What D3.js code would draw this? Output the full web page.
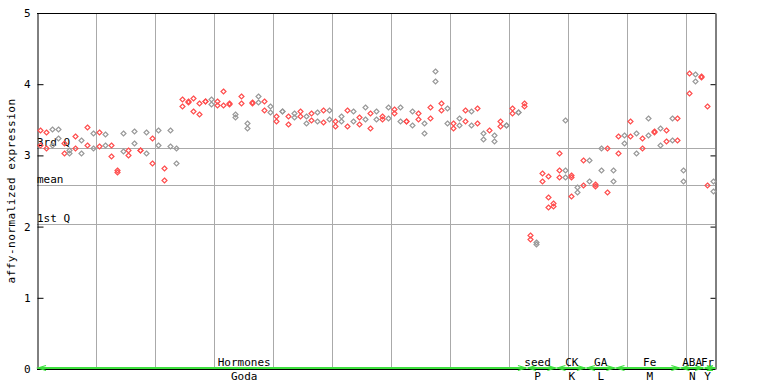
<!DOCTYPE html>
<html>
<head>
<meta charset="utf-8">
<script src="https://cdn.jsdelivr.net/npm/d3@7"></script>
<style>
  body { margin: 0; background: #fff; }
  text { font-family: "DejaVu Sans Mono", monospace; font-size: 11px; fill: #000; }
</style>
</head>
<body>
<div id="chart"></div>
<script>
// one entry per sample column, replicate values
var sampleValues = [
  [3.36, 3.14], [3.33, 3.11], [3.37, 3.14], [3.37, 3.24], [3.17, 3.04],
  [3.08, 3.03], [3.27, 3.11], [3.21, 3.04], [3.40, 3.14], [3.31, 3.11],
  [3.33, 3.13], [3.30, 3.15], [3.14, 2.99], [2.80, 2.77], [3.31, 3.06],
  [3.08, 3.01], [3.34, 3.17], [3.08, 3.07], [3.33, 3.04], [3.24, 2.89],
  [3.36, 3.15], [2.83, 2.66], [3.35, 3.13], [3.10, 2.89], [3.79, 3.70],
  [3.76, 3.75], [3.81, 3.62], [3.74, 3.58], [3.77, 3.76], [3.79, 3.72],
  [3.76, 3.71], [3.90, 3.71], [3.73, 3.72], [3.58, 3.54], [3.83, 3.73],
  [3.45, 3.39], [3.75, 3.74], [3.83, 3.75], [3.76, 3.64], [3.69, 3.61],
  [3.56, 3.48], [3.63, 3.62], [3.56, 3.44], [3.60, 3.54], [3.63, 3.56],
  [3.56, 3.45], [3.60, 3.50], [3.61, 3.49], [3.64, 3.47], [3.64, 3.51],
  [3.49, 3.41], [3.56, 3.48], [3.64, 3.41], [3.62, 3.49], [3.54, 3.44],
  [3.68, 3.51], [3.60, 3.38], [3.62, 3.51], [3.56, 3.51], [3.68, 3.52],
  [3.65, 3.59], [3.68, 3.49], [3.48, 3.48], [3.62, 3.42], [3.59, 3.51],
  [3.45, 3.32], [3.68, 3.53], [4.19, 4.05], [3.74, 3.64], [3.66, 3.46],
  [3.46, 3.38], [3.53, 3.42], [3.64, 3.49], [3.62, 3.42], [3.67, 3.46],
  [3.31, 3.23], [3.35], [3.29, 3.20], [3.48, 3.41], [3.43, 3.43],
  [3.66, 3.60], [3.61, 3.61], [3.74, 3.70], [1.88, 1.82], [1.79, 1.76],
  [2.75, 2.64], [2.71, 2.42, 2.28], [2.33, 2.29], [3.03, 2.80, 2.69], [3.50, 2.79, 2.69],
  [2.73, 2.70, 2.43], [2.55, 2.49], [2.93, 2.58], [2.93, 2.64], [2.60, 2.57],
  [3.10, 2.79], [3.11, 2.48], [2.79, 2.64], [3.27, 3.04], [3.28, 3.17],
  [3.49, 3.27], [3.32, 3.03], [3.25, 3.10], [3.52, 3.29], [3.34, 3.33],
  [3.38, 3.15], [3.35, 3.20], [3.53, 3.21], [3.53, 3.22], [2.79, 2.64],
  [4.16, 3.88], [4.15, 4.04], [4.11, 4.10], [3.69, 2.59], [2.64, 2.50]
];
// r = red, g = grey, per column (10 per chunk)
var sampleColours = "rrggrgrgrg" + "rgrrgrgrgr" + "grggrrrrrg" + "rrrgrgrgrg" +
                    "rgrgrgrgrg" + "rgrgrgrgrg" + "rgrgrgrgrg" + "rgrgrgrgrg" +
                    "rgrrgrrrrg" + "rgrgrgrgrg" + "rgrgrgrgrg" + "rgrrg";

var quartiles = [
  {label: "3rd Q", value: 3.10},
  {label: "mean", value: 2.58},
  {label: "1st Q", value: 2.03}
];

// experiment groups along the bottom: first column, last column
var groupNames = ["Hormones", "seed", "CK", "GA", "Fe", "ABA", "Fr"];
var groupCodes = ["Goda", "P", "K", "L", "M", "N", "Y"];
var groupStart = [0, 83, 88, 93, 98, 109, 113];
var groupEnd   = [82, 87, 92, 97, 108, 112, 114];
var groupLabelCol = [35.1, 84.8, 90.6, 95.5, 103.8, 111, 113.6];

var yTicks = [0, 1, 2, 3, 4, 5];

var W = 768, H = 384;
var pLeft = 37, pRight = 715.8, pTop = 13, pBottom = 369;
var nCols = sampleValues.length;

var svg = d3.select("#chart").append("svg")
    .attr("width", W)
    .attr("height", H);

var x = d3.scaleLinear().domain([0, nCols]).range([pLeft, pRight]);
var y = d3.scaleLinear().domain([0, 5]).range([pBottom, pTop]);

// vertical grid every 10 samples
var gridCols = d3.range(10, nCols, 10);
svg.append("g").selectAll("line")
    .data(gridCols)
    .enter().append("line")
    .attr("x1", d => Math.round(x(d)) + 0.5)
    .attr("x2", d => Math.round(x(d)) + 0.5)
    .attr("y1", pTop)
    .attr("y2", pBottom)
    .attr("stroke", "#aaa");

// quartile lines
var q = svg.append("g").selectAll("g")
    .data(quartiles)
    .enter().append("g");
q.append("line")
    .attr("x1", pLeft)
    .attr("x2", 715)
    .attr("y1", d => Math.round(y(d.value)) + 0.5)
    .attr("y2", d => Math.round(y(d.value)) + 0.5)
    .attr("stroke", "#aaa");
q.append("text")
    .attr("x", pLeft)
    .attr("y", d => y(d.value) - 2)
    .text(d => d.label);

// frame
svg.append("line").attr("x1", pLeft).attr("x2", 715).attr("y1", pTop + 0.5).attr("y2", pTop + 0.5).attr("stroke", "#000");
svg.append("line").attr("x1", pLeft).attr("x2", 715).attr("y1", pBottom + 0.5).attr("y2", pBottom + 0.5).attr("stroke", "#000");

var yAxis = d3.axisLeft(y)
    .tickValues(yTicks)
    .tickFormat(d3.format("d"))
    .tickSizeInner(-6)
    .tickSizeOuter(0)
    .tickPadding(7);
var ga = svg.append("g")
    .attr("transform", "translate(" + (pLeft + 0.5) + ",0)")
    .call(yAxis);
ga.selectAll("text").style("font-family", "DejaVu Sans Mono").style("font-size", "11px");
ga.selectAll("line, path").attr("stroke", "#000");

var yAxisR = d3.axisRight(y)
    .tickValues(yTicks)
    .tickFormat("")
    .tickSizeInner(-5)
    .tickSizeOuter(0);
svg.append("g")
    .attr("transform", "translate(715.5,0)")
    .call(yAxisR)
    .selectAll("line, path").attr("stroke", "#000");

svg.append("text")
    .attr("transform", "translate(15," + ((pTop + pBottom) / 2) + ") rotate(-90)")
    .attr("text-anchor", "middle")
    .style("letter-spacing", "0.5px")
    .text("affy-normalized expression");

// points
var points = [];
sampleValues.forEach(function (vals, i) {
    vals.forEach(function (v) {
        points.push({col: i, value: v, c: sampleColours[i] === "g" ? "#999" : "#ff4d4d"});
    });
});

var diamond = "M0,-2.5L2.5,0L0,2.5L-2.5,0Z";
svg.append("g").selectAll("path")
    .data(points)
    .enter().append("path")
    .attr("d", diamond)
    .attr("transform", d => "translate(" + (Math.round(x(d.col + 0.5)) + 0.5) + "," + (Math.round(y(d.value)) + 0.5) + ")")
    .attr("fill", "none")
    .attr("stroke", d => d.c)
    .attr("stroke-width", 1.2);

// groups along the x axis
var green = "#3de03d";
var groups = groupNames.map(function (n, i) {
    return {name: n, code: groupCodes[i], s: groupStart[i], e: groupEnd[i], lc: groupLabelCol[i]};
});
var gg = svg.append("g").selectAll("g")
    .data(groups)
    .enter().append("g");
gg.append("line")
    .attr("x1", d => x(d.s) + 1)
    .attr("x2", d => x(d.e + 1) - 1)
    .attr("y1", 368)
    .attr("y2", 368)
    .attr("stroke", green)
    .attr("stroke-width", 2);
gg.append("path")
    .attr("d", function (d) {
        var a = x(d.s) + 1, b = x(d.e + 1) - 1;
        return "M" + (a + 8) + ",365.5L" + a + ",368L" + (a + 8) + ",370.5" +
               "M" + (b - 8) + ",365.5L" + b + ",368L" + (b - 8) + ",370.5";
    })
    .attr("fill", "none")
    .attr("stroke", green)
    .attr("stroke-width", 1.2);
gg.append("text")
    .attr("x", d => x(d.lc))
    .attr("y", 366)
    .attr("text-anchor", "middle")
    .text(d => d.name);
gg.append("text")
    .attr("x", d => x(d.lc))
    .attr("y", 380)
    .attr("text-anchor", "middle")
    .text(d => d.code);
</script>
</body>
</html>
